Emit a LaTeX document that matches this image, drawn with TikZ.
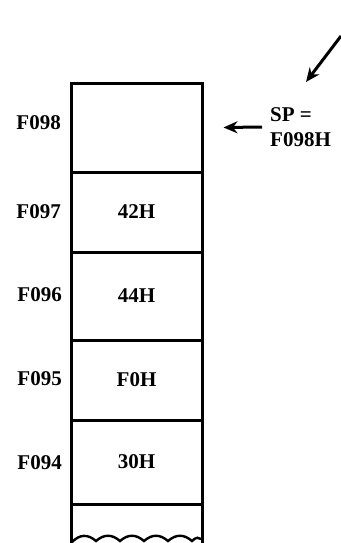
\documentclass[tikz,border=0pt]{standalone}
\usepackage{fontspec}
\setmainfont{Liberation Serif}
\usetikzlibrary{arrows.meta}
\begin{document}
\begin{tikzpicture}[x=1pt,y=-1pt,
  txt/.style={font=\fontsize{21}{25}\selectfont\bfseries},
  cell/.style={draw, line width=3pt, minimum width=131pt, inner sep=0pt, txt},
  addr/.style={anchor=east, inner sep=0pt, txt},
  lbl/.style={txt, align=left, inner sep=0pt},
  ptr/.style={line width=3pt, -{Stealth[length=14pt,width=12pt]}}]
\useasboundingbox (0,0) rectangle (340,543);
\node[cell, minimum height=89pt] (c0) at (136.5,127.5) {};
\node[cell, minimum height=80pt] (c1) at (136.5,212) {42H};
\node[cell, minimum height=88pt] (c2) at (136.5,296) {44H};
\node[cell, minimum height=80pt] (c3) at (136.5,380) {F0H};
\node[cell, minimum height=84pt] (c4) at (136.5,462) {30H};
\coordinate (bl) at (71,504);
\coordinate (br) at (202,504);
\draw[line width=3pt] (bl) -- (71,545);
\draw[line width=3pt] (br) -- (202,545);
\draw[line width=2.4pt] (72,542) .. controls (80,534) and (88,534) .. (96,541)
  .. controls (104,534) and (112,534) .. (120,541)
  .. controls (128,534) and (136,534) .. (144,541)
  .. controls (152,534) and (160,534) .. (168,541)
  .. controls (176,534) and (184,534) .. (192,541)
  .. controls (196,537) and (199,537) .. (201,539);
\node[addr] (a0) at (61,123) {F098};
\node[addr] (a1) at (61,212) {F097};
\node[addr] (a2) at (62,295) {F096};
\node[addr] (a3) at (62,379) {F095};
\node[addr] (a4) at (62,463) {F094};
\node[lbl, anchor=west] (sp) at (270,127) {SP =\\F098H};
\draw[ptr] ([xshift=-8pt]sp.west) -- ([xshift=20pt]c0.east);
\coordinate (top) at (341,36);
\draw[ptr] (top) -- (306,82);
\end{tikzpicture}
\end{document}
